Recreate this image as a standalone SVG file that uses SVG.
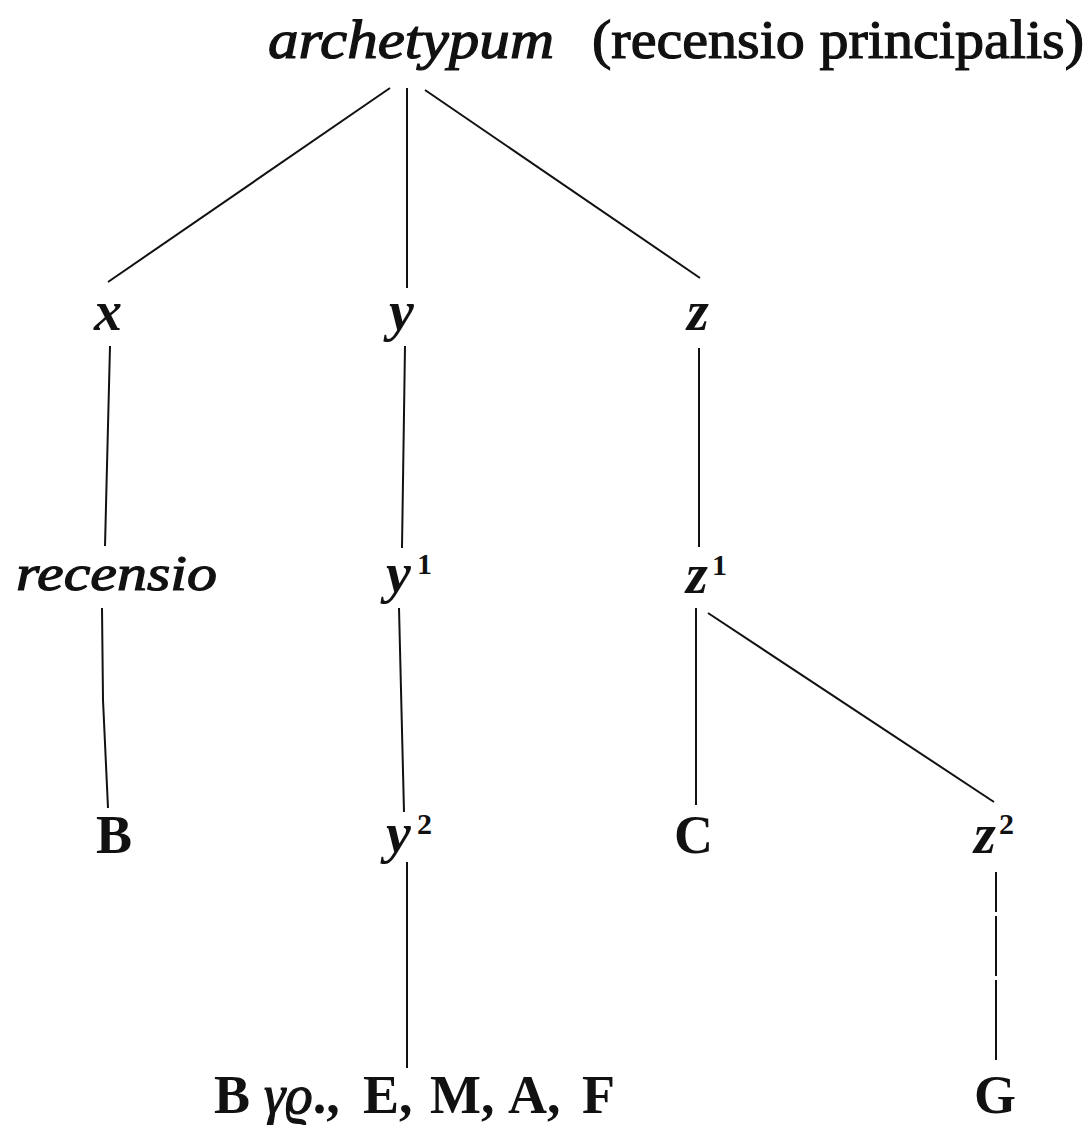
<svg xmlns="http://www.w3.org/2000/svg" width="1092" height="1125" viewBox="0 0 1092 1125">
<style>
text{font-family:"Liberation Serif","DejaVu Serif",serif;fill:#111;}
.it{font-style:italic;}
.heavy{stroke:#111;stroke-width:1.2;}
.var{font-style:italic;font-weight:bold;font-size:56px;}
.rm{font-size:54px;font-weight:bold;}
.sup{font-size:30px;font-weight:bold;}
.ln{stroke:#111;stroke-width:2;fill:none;}
</style>
<rect width="1092" height="1125" fill="#fff"/>
<g id="connectors">
<line class="ln" x1="390" y1="88" x2="108" y2="282"/>
<line class="ln" x1="407" y1="88" x2="407" y2="288"/>
<line class="ln" x1="425" y1="90" x2="700" y2="278"/>
<path class="ln" d="M110,346 L105,546"/>
<path class="ln" d="M102,608 L103,700 L108,808"/>
<path class="ln" d="M405,346 L402,548"/>
<path class="ln" d="M399,608 L404,812"/>
<line class="ln" x1="407" y1="862" x2="407" y2="1068"/>
<line class="ln" x1="699" y1="348" x2="699" y2="547"/>
<line class="ln" x1="696" y1="608" x2="696" y2="805"/>
<line class="ln" x1="708" y1="613" x2="994" y2="802"/>
<line class="ln" x1="996" y1="872" x2="996" y2="1066" stroke-dasharray="40 4 60 4 80"/>
</g>
<g id="archetypum">
<text x="268" y="58" font-size="54" class="it heavy" textLength="286" lengthAdjust="spacingAndGlyphs">archetypum</text>
<text x="592" y="58" font-size="54" class="heavy" textLength="492" lengthAdjust="spacingAndGlyphs">(recensio  principalis)</text>
</g>
<g id="x"><text class="var" x="94" y="330">x</text></g>
<g id="y"><text class="var" x="389" y="330">y</text></g>
<g id="z"><text class="var" x="687" y="330">z</text></g>
<g id="recensio"><text class="it heavy" x="16" y="590" font-size="50" textLength="201" lengthAdjust="spacingAndGlyphs">recensio</text></g>
<g id="y1"><text class="var" x="386" y="592">y</text><text class="sup" x="417" y="574">1</text></g>
<g id="z1"><text class="var" x="686" y="593">z</text><text class="sup" x="712" y="575">1</text></g>
<g id="B"><text class="rm" x="96" y="853">B</text></g>
<g id="y2"><text class="var" x="386" y="852">y</text><text class="sup" x="417" y="834">2</text></g>
<g id="C"><text class="rm" x="674" y="853">C</text></g>
<g id="z2"><text class="var" x="974" y="853">z</text><text class="sup" x="999" y="834">2</text></g>
<g id="witnesses"><text class="rm" y="1113"><tspan x="214">B</tspan><tspan x="264" font-style="italic" font-weight="normal" class="heavy">γϱ</tspan><tspan>.,</tspan><tspan x="363">E,</tspan><tspan x="430">M,</tspan><tspan x="508">A,</tspan><tspan x="582">F</tspan></text></g>
<g id="G"><text class="rm" x="974" y="1113">G</text></g>
</svg>
